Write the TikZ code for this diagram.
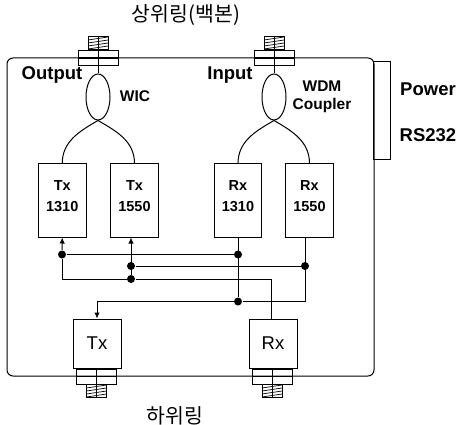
\documentclass[tikz,border=0pt]{standalone}
\usepackage{fontspec}
\setmainfont{Liberation Sans}
\newfontfamily\krfont{Noto Sans CJK KR}
\usetikzlibrary{shapes.geometric, arrows.meta}
\tikzset{
  unitbox/.style={draw, line width=1pt, minimum width=47.5pt, minimum height=73pt, inner sep=0pt, align=center, text depth=9pt, font=\bfseries\fontsize{14.5}{21}\selectfont},
  lowbox/.style={draw, line width=1pt, minimum width=48pt, minimum height=49pt, inner sep=0pt, font=\fontsize{18.5}{20}\selectfont},
  coupler/.style={draw, ellipse, line width=1pt, minimum width=24pt, minimum height=46pt, inner sep=0pt},
  plate/.style={draw, line width=0.8pt, minimum width=40pt, minimum height=15pt, inner sep=0pt},
  thread/.style={draw, line width=0.7pt, minimum width=20pt, minimum height=13pt, inner sep=0pt},
  dot/.style={circle, fill, minimum size=8pt, inner sep=0pt},
  lbl/.style={inner sep=0pt, align=center, font=\bfseries\fontsize{18.5}{20}\selectfont},
  smalllbl/.style={inner sep=0pt, align=center, font=\bfseries\fontsize{15.5}{18}\selectfont},
  title/.style={inner sep=0pt, font=\krfont\fontsize{20.5}{22}\selectfont},
  tip/.style={-{Latex[length=6pt,width=5.5pt]}},
}
\begin{document}
\begin{tikzpicture}[x=1pt, y=-1pt, line width=1pt]
  \useasboundingbox (0,0) rectangle (458,425);
  \node[title] (upper) at (186,15) {상위링(백본)};
  \node[title] (lower) at (175,416) {하위링};
  \node[draw, rounded corners=6pt, line width=1pt, minimum width=367pt, minimum height=318pt] (case) at (190.5,217) {};
  \node[draw, line width=1pt, minimum width=17pt, minimum height=98pt] (ports) at (381.5,111) {};
  \node[lbl] (output) at (52,75) {Output};
  \node[lbl] (input) at (230,75) {Input};
  \node[smalllbl] (wiclbl) at (135,96) {WIC};
  \node[smalllbl] (wdmlbl) at (322,97) {WDM\\Coupler};
  \node[lbl] (power) at (428,89) {Power};
  \node[lbl] (rs) at (428,135) {RS232};
  % couplers
  \node[coupler] (wic) at (98,97) {};
  \node[coupler] (wdm) at (274,97) {};
  % upper units
  \node[unitbox] (txa) at (62.25,200.5) {Tx\\1310};
  \node[unitbox] (txb) at (134.5,200.5) {Tx\\1550};
  \node[unitbox] (rxa) at (238,200.5) {Rx\\1310};
  \node[unitbox] (rxb) at (309.5,200.5) {Rx\\1550};
  % lower units
  \node[lowbox] (txl) at (97,343.5) {Tx};
  \node[lowbox] (rxl) at (273,343.5) {Rx};
  % ring connectors
  \foreach \name/\px/\py/\ty in {ta/98/58/43, tb/274/58/43, tc/96.5/376.5/391, td/272/376.5/391} {
    \node[plate] (\name plate) at (\px,\py) {};
    \node[thread] (\name thread) at (\px,\ty) {};
    \foreach \k in {-4.5,-1.5,1.5,4.5}
      \draw[line width=0.7pt] (\px-10,\ty+\k+1.5) -- (\px+10,\ty+\k-1.5);
    \draw[line width=1.8pt] (\name plate.west) -- (\name plate.east);
  }
  \draw (tathread.north) -- (wic.north);
  \draw (tbthread.north) -- (wdm.north);
  \draw (tcthread.south) -- (tcplate.north);
  \draw (tdthread.south) -- (tdplate.north);
  % fibres
  \draw (wic.south) to[out=-150, in=90] (txa.north);
  \draw (wic.south) to[out=-30, in=90] (txb.north);
  \draw (wdm.south) to[out=-150, in=90] (rxa.north);
  \draw (wdm.south) to[out=-30, in=90] (rxb.north);
  % bus
  \node[dot] (da) at (62,254.5) {};
  \node[dot] (db) at (238,254.5) {};
  \node[dot] (dc) at (131,266) {};
  \node[dot] (dd) at (305,266) {};
  \node[dot] (de) at (131,279) {};
  \node[dot] (df) at (238,301.5) {};
  \coordinate (turn) at (97,301.5);
  \coordinate (rxin) at (271,319);
  \draw[tip] (da) -- (txa.south);
  \draw[tip] (de) -- (txb.south -| de);
  \draw (da) -- (db);
  \draw (dc) -- (dd);
  \draw (da) |- (de);
  \draw (de) -| (rxin);
  \draw (rxa.south) -- (df);
  \draw (rxb.south -| dd) |- (df);
  \draw[tip] (df) -- (turn) -- (txl.north);
\end{tikzpicture}
\end{document}
